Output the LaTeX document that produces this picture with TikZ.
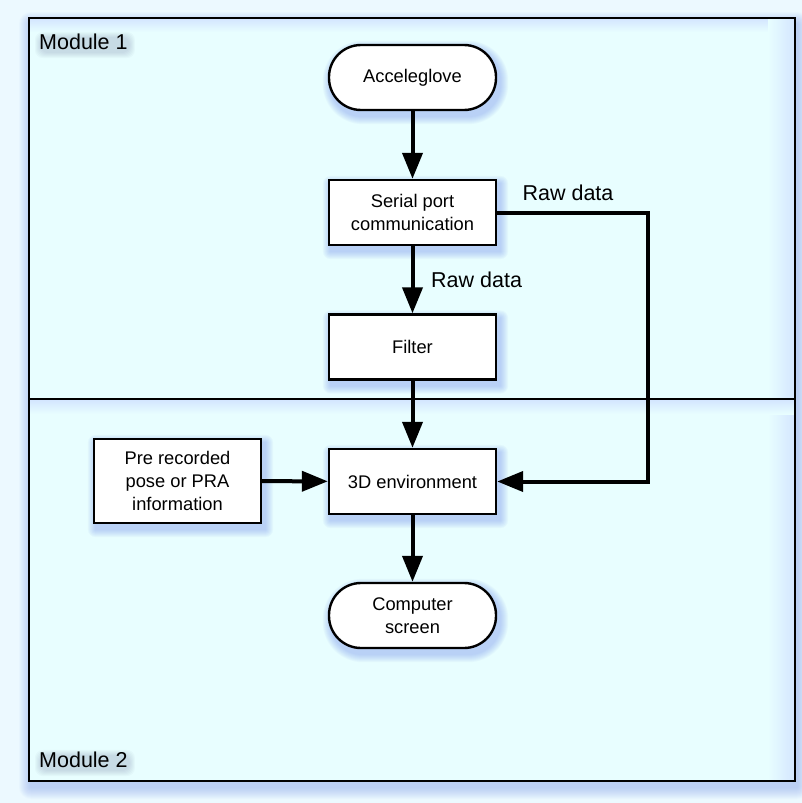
\documentclass[tikz,border=0pt]{standalone}
\usepackage{fontspec}
\setmainfont{Liberation Sans}
\usetikzlibrary{arrows.meta,calc}

\definecolor{pagebg}{RGB}{236,249,255}
\definecolor{modfill}{RGB}{232,254,255}
\definecolor{modedge}{RGB}{212,230,255}
\definecolor{shadowblue}{RGB}{110,140,235}
\definecolor{glowdark}{RGB}{60,70,120}

\pgfdeclarelayer{back}
\pgfdeclarelayer{shadows}
\pgfsetlayers{back,shadows,main}

% soft drop shadow under a node: node, dx, dy, steps, corner radius
\newcommand\softshadow[5]{%
  \foreach \k in {1,...,#4}{%
    \pgfmathsetmacro\rr{#5+\k}%
    \fill[shadowblue, opacity=0.055, rounded corners=\rr pt]
      ($(#1.north west)+(#2-\k,#3-\k)$) rectangle ($(#1.south east)+(#2+\k,#3+\k)$);
  }}

% soft dark haze behind a title
\newcommand\titlehaze[1]{%
  \foreach \k in {1,...,6}{%
    \fill[glowdark, opacity=0.03, rounded corners=8pt]
      ($(#1.south west)+(2-\k,2+\k)$) rectangle ($(#1.north east)+(1+\k,4-\k)$);
  }}

\tikzset{
  x=1pt, y=-1pt,
  base/.style={draw=black, line width=2.4pt, fill=white, minimum width=167pt,
    align=center, inner sep=0pt, font=\fontsize{18.3}{23}\selectfont},
  procbox/.style={base, rectangle, minimum height=65pt},
  termbox/.style={base, rectangle, rounded corners=32pt, minimum height=65pt},
  flow/.style={line width=4pt, -{Triangle[length=26pt,width=20pt]}},
  flowlabel/.style={font=\fontsize{21.5}{26}\selectfont, inner sep=0pt},
  modlabel/.style={font=\fontsize{21.5}{26}\selectfont, inner sep=0pt, anchor=west}
}

\begin{document}
\begin{tikzpicture}
\useasboundingbox (0,0) rectangle (802,803);

\begin{pgfonlayer}{back}
  \fill[pagebg] (0,0) rectangle (802,803);
  % shadows of the two module frames
  \foreach \k in {1,...,12}{%
    \fill[shadowblue, opacity=0.035, rounded corners=\k pt]
      (29+2-\k,18+6-\k) rectangle (795+2+\k,781+6+\k);
  }
  \fill[modfill] (29,18) rectangle (795,781);
  % light bluish edge inside each module
  \shade[top color=modedge, bottom color=modfill] (30,19) rectangle (794,32);
  \shade[left color=modfill, right color=modedge] (768,19) rectangle (794,398);
  \shade[left color=modfill, right color=modedge] (768,400) rectangle (794,780);
  % shadow cast by module 1 onto module 2
  \shade[top color=modedge, bottom color=modfill] (30,400) rectangle (794,414);
  \draw[line width=2.2pt] (29,18) rectangle (795,399);
  \draw[line width=2.2pt] (29,399) rectangle (795,781);
\end{pgfonlayer}

% module titles
\node[modlabel] (mod1) at (39,42) {Module 1};
\node[modlabel] (mod2) at (39,760) {Module 2};

% process nodes
\node[termbox] (acc) at (412.5,77.5) {Acceleglove};
\node[procbox] (ser) at (412.5,212.5) {Serial port\\communication};
\node[procbox] (fil) at (412.5,347) {Filter};
\node[procbox] (env) at (412.5,481.5) {3D environment};
\node[termbox] (scr) at (412.5,615.5) {Computer\\screen};
\node[procbox, minimum height=84pt] (pre) at (177.5,481) {Pre recorded\\pose or PRA\\information};

\begin{pgfonlayer}{shadows}
  \titlehaze{mod1}
  \titlehaze{mod2}
  \softshadow{acc}{3}{5}{8}{32}
  \softshadow{ser}{3}{5}{8}{0}
  \softshadow{fil}{3}{5}{8}{0}
  \softshadow{env}{3}{5}{8}{0}
  \softshadow{scr}{3}{5}{8}{32}
  \softshadow{pre}{3}{5}{8}{0}
\end{pgfonlayer}

% connectors
\coordinate (bend) at (648,212.5);
\draw[flow] (acc) -- (ser);
\draw[flow] (ser) -- (fil);
\draw[flow] (fil) -- (env);
\draw[flow] (env) -- (scr);
\draw[flow] (pre) -- (env);
\draw[flow] (ser.east) -- (bend) |- (env.east);

\node[flowlabel, anchor=west] (rawlow) at (431,280) {Raw data};
\node[flowlabel] (rawhigh) at (568,193) {Raw data};
\end{tikzpicture}
\end{document}
